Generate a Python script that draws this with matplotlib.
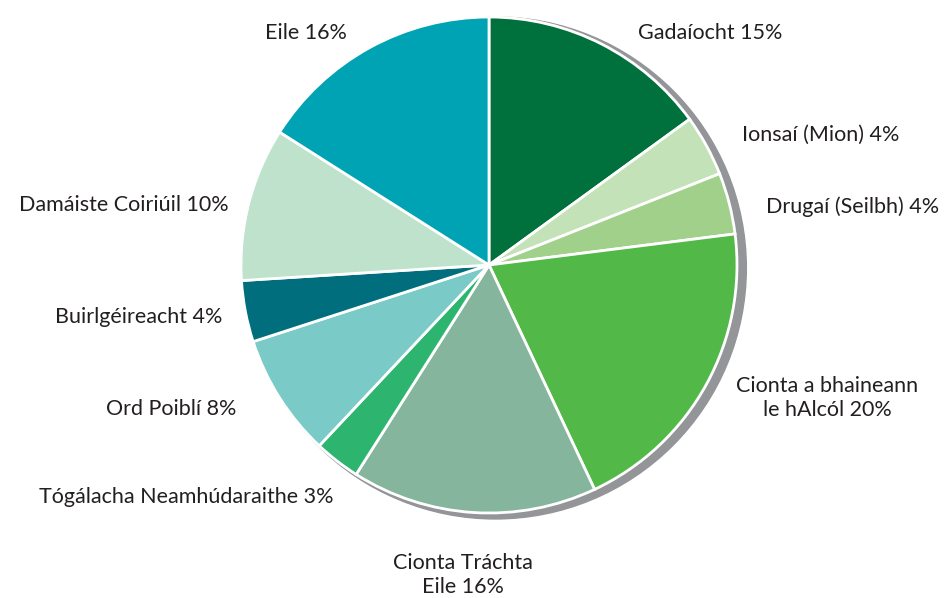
import numpy as np
import matplotlib.pyplot as plt
from matplotlib.patches import Circle

# categorias en el sentido de las agujas del reloj, desde arriba
labels = ["Gadaíocht 15%", "Ionsaí (Mion) 4%", "Drugaí (Seilbh) 4%",
          "Cionta a bhaineann\nle hAlcól 20%", "Cionta Tráchta\nEile 16%",
          "Tógálacha Neamhúdaraithe 3%", "Ord Poiblí 8%",
          "Buirlgéireacht 4%", "Damáiste Coiriúil 10%", "Eile 16%"]
values = [15, 4, 4, 20, 16, 3, 8, 4, 10, 16]
colors = ["#00703c", "#c4e2b8", "#a0d08a", "#52b848", "#86b59d",
          "#2db56f", "#7acbc8", "#006e7c", "#bfe2cc", "#00a3b4"]

W, H = 946, 598
cx, cy, R = 489, H - 265, 248

# posiciones de etiquetas (pix, eje y hacia abajo) y alineacion
label_pos = [(638, 33, "left"), (742, 135, "left"), (766, 207, "left"),
             (827, 398, "center"), (463, 575, "center"),
             (333, 497, "right"), (236, 409, "right"),
             (222, 317, "right"), (229, 205, "right"), (347, 33, "right")]

plt.rcParams['font.family'] = ['Lato', 'DejaVu Sans']
fig = plt.figure(figsize=(W / 100, H / 100), dpi=100)
ax = fig.add_axes([0, 0, 1, 1])

# sombra gris
off = np.deg2rad(-25)
ax.add_patch(Circle((cx + 7 * np.cos(off), cy + 7 * np.sin(off)), R + 3,
                    color="#939598", zorder=0))

ax.pie(values, colors=colors, startangle=90, counterclock=False,
       center=(cx, cy), radius=R, frame=True,
       wedgeprops=dict(edgecolor="white", linewidth=2))
ax.set_xlim(0, W)
ax.set_ylim(0, H)
ax.set_aspect("equal")
ax.axis("off")

for lab, (x, y, ha) in zip(labels, label_pos):
    ax.text(x, H - y, lab, ha=ha, va="center", fontsize=15.5,
            color="#231f20", linespacing=1.25)

fig.savefig("out.png", dpi=100)
